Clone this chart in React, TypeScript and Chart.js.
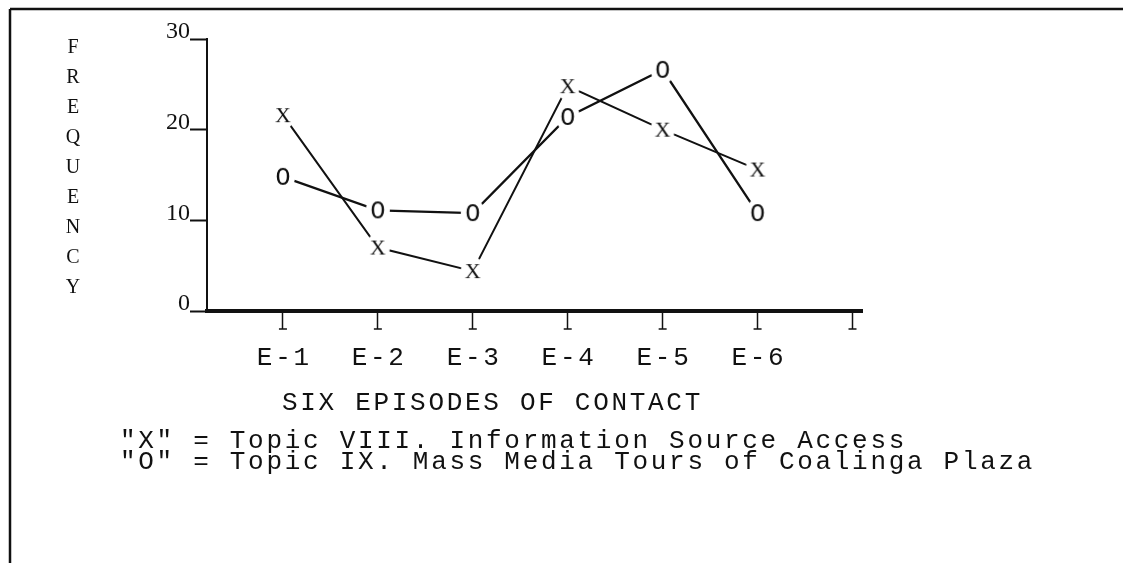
import React, { useEffect, useRef } from 'react';
import { Chart, registerables } from 'chart.js';

Chart.register(...registerables);

// ---- data ----
const episodeLabels = ['E-1', 'E-2', 'E-3', 'E-4', 'E-5', 'E-6', ''];
const episodePositions = [1, 2, 3, 4, 5, 6];
const topicVIII = [21.6, 7.0, 4.4, 24.8, 20.0, 15.6];
const topicIX = [14.8, 11.1, 10.8, 21.4, 26.6, 10.8];
const yTickValues = [0, 10, 20, 30];
const seriesNames = ['Topic VIII. Information Source Access', 'Topic IX. Mass Media Tours of Coalinga Plaza'];
const seriesMarks = ['X', 'O'];
const yAxisTitle = 'FREQUENCY';
const xAxisTitle = 'SIX EPISODES OF CONTACT';

const MONO = '"Liberation Mono", "DejaVu Sans Mono", monospace';
const SERIF = '"Liberation Serif", "DejaVu Serif", serif';
const INK = '#111';
const TYPE_SPACING = '2.7px';

function makeMark(ch: string, font: string): HTMLCanvasElement {
  const c = document.createElement('canvas');
  c.width = 26;
  c.height = 30;
  const g = c.getContext('2d')!;
  g.fillStyle = '#fff';
  g.beginPath();
  g.ellipse(13, 15, 12, 14, 0, 0, Math.PI * 2);
  g.fill();
  g.fillStyle = INK;
  g.font = font;
  g.textAlign = 'center';
  g.textBaseline = 'middle';
  g.fillText(ch, 13, 16);
  return c;
}

const typedText = {
  id: 'typedText',
  beforeDraw(chart: any) {
    const ctx = chart.ctx;
    ctx.save();
    ctx.fillStyle = '#fff';
    ctx.fillRect(0, 0, chart.width, chart.height);
    ctx.restore();
  },
  afterDraw(chart: any) {
    const ctx = chart.ctx;
    const a = chart.chartArea;
    ctx.save();
    // page border lines (top and left)
    ctx.strokeStyle = INK;
    ctx.lineWidth = 2.5;
    ctx.beginPath();
    ctx.moveTo(10, 9);
    ctx.lineTo(chart.width, 9);
    ctx.moveTo(10, 9);
    ctx.lineTo(10, chart.height);
    ctx.stroke();

    ctx.fillStyle = INK;
    ctx.textBaseline = 'middle';

    // typed "I" tick marks: foot serif + episode labels
    const xs = chart.scales.x;
    ctx.lineWidth = 1.5;
    ctx.font = `26px ${MONO}`;
    (ctx as any).letterSpacing = TYPE_SPACING;
    xs.ticks.forEach((t: any, i: number) => {
      const px = xs.getPixelForValue(t.value);
      ctx.beginPath();
      ctx.moveTo(px - 4, a.bottom + 18);
      ctx.lineTo(px + 4, a.bottom + 18);
      ctx.stroke();
      const lab = episodeLabels[i] ?? '';
      if (lab) {
        const w = ctx.measureText(lab).width;
        ctx.textAlign = 'left';
        ctx.fillText(lab, px - (w - 2.7) / 2, a.bottom + 47);
      }
    });

    // x title
    ctx.textAlign = 'left';
    ctx.fillText(xAxisTitle, a.left + 75, a.bottom + 92);

    // legend lines
    seriesNames.forEach((name, i) => {
      ctx.fillText(`"${seriesMarks[i]}" = ${name}`, 120, a.bottom + 130 + i * 21);
    });

    // vertical y title
    (ctx as any).letterSpacing = '0px';
    ctx.font = `20px ${SERIF}`;
    ctx.textAlign = 'center';
    yAxisTitle.split('').forEach((ch, i) => {
      ctx.fillText(ch, a.left - 134, a.top + 9 + i * 30);
    });
    ctx.restore();
  },
};

export default function App() {
  const ref = useRef<HTMLCanvasElement>(null);

  useEffect(() => {
    document.body.style.margin = '0';
    const markX = makeMark('X', `22px ${SERIF}`);
    const markO = makeMark('O', `25px ${MONO}`);

    const chart = new Chart(ref.current!, {
      type: 'line',
      data: {
        datasets: [
          {
            label: seriesNames[0],
            data: episodePositions.map((x, i) => ({ x, y: topicVIII[i] })),
            borderColor: INK,
            borderWidth: 2,
            pointStyle: markX as any,
            fill: false,
            tension: 0,
          },
          {
            label: seriesNames[1],
            data: episodePositions.map((x, i) => ({ x, y: topicIX[i] })),
            borderColor: INK,
            borderWidth: 2.3,
            pointStyle: markO as any,
            fill: false,
            tension: 0,
          },
        ],
      },
      plugins: [typedText],
      options: {
        responsive: false,
        animation: false,
        events: [],
        clip: false as any,
        layout: { padding: { top: 39, right: 261, left: 0, bottom: 0 } },
        plugins: {
          legend: { display: false },
          tooltip: { enabled: false },
        },
        scales: {
          x: {
            type: 'linear',
            min: 0.2,
            max: 7.1,
            afterBuildTicks: (s: any) => {
              s.ticks = episodeLabels.map((_, i) => ({ value: i + 1 }));
            },
            afterFit: (s: any) => {
              s.height = 252;
            },
            ticks: {
              display: false,
              callback: (v: any) => episodeLabels[Number(v) - 1] ?? '',
            },
            grid: {
              drawOnChartArea: false,
              drawTicks: true,
              tickLength: 18,
              tickColor: INK,
              tickWidth: 1.5,
            },
            border: { display: true, color: INK, width: 4 },
          },
          y: {
            type: 'linear',
            min: 0,
            max: 30,
            afterBuildTicks: (s: any) => {
              s.ticks = yTickValues.map((v) => ({ value: v }));
            },
            afterFit: (s: any) => {
              s.width = 207;
            },
            ticks: {
              font: { family: SERIF, size: 24 },
              color: INK,
              padding: 0,
              labelOffset: -7,
            },
            grid: {
              drawOnChartArea: false,
              drawTicks: true,
              tickLength: 17,
              tickColor: INK,
              tickWidth: 2,
            },
            border: { display: true, color: INK, width: 2 },
          },
        },
      },
    });
    return () => chart.destroy();
  }, []);

  return (
    <div style={{ width: 1123, height: 563, position: 'relative', background: '#fff' }}>
      <canvas ref={ref} width={1123} height={563} />
    </div>
  );
}
